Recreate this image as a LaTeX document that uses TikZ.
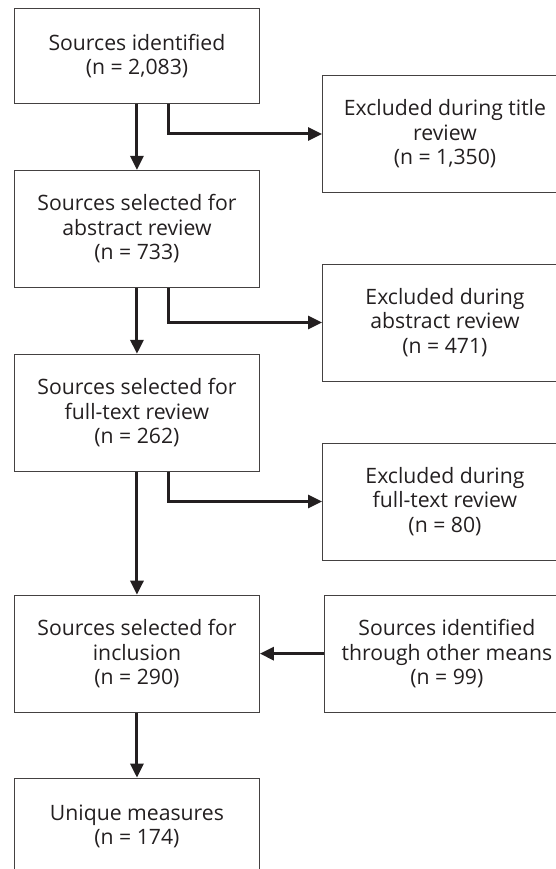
\documentclass[tikz,border=0pt]{standalone}
\usepackage{fontspec}
\setmainfont{Open Sans}
\usetikzlibrary{positioning,arrows.meta}
\definecolor{ink}{HTML}{231F20}
\tikzset{
    stagenode/.style={
        draw=ink!85,line width=.9pt,minimum width=245pt,align=center,text=ink,inner sep=0pt
    },
    flow/.style={
        ->,line width=3pt,draw=ink
    }
}

\begin{document}
\begin{tikzpicture}[x=1pt,y=-1pt, >={Triangle[length=14pt,width=13pt]}, font=\fontsize{21.2}{24.5}\selectfont]
\useasboundingbox (0,0) rectangle (556,869);
% main column
\node[stagenode,minimum height=95pt,anchor=north west] (n1) at (14,8) {Sources identified\\(n = 2,083)};
\node[stagenode,minimum height=117pt,below=66pt of n1] (n2) {Sources selected for\\abstract review\\(n = 733)};
\node[stagenode,minimum height=117pt,below=66pt of n2] (n3) {Sources selected for\\full-text review\\(n = 262)};
\node[stagenode,minimum height=117pt,below=123pt of n3] (n4) {Sources selected for\\inclusion\\(n = 290)};
\node[stagenode,minimum height=97pt,below=65pt of n4] (n5) {Unique measures\\(n = 174)};
% side boxes
\node[stagenode,minimum height=117pt,anchor=west] (x1) at (322,134) {Excluded during title\\review\\(n = 1,350)};
\node[stagenode,minimum height=117pt,anchor=west] (x2) at (322,322.5) {Excluded during\\abstract review\\(n = 471)};
\node[stagenode,minimum height=117pt,anchor=west] (x3) at (322,501.5) {Excluded during\\full-text review\\(n = 80)};
\node[stagenode,minimum height=117pt,right=64pt of n4] (x4) {Sources identified\\through other means\\(n = 99)};

\draw[flow] (n1) -- (n2);
\draw[flow] (n2) -- (n3);
\draw[flow] (n3) -- (n4);
\draw[flow] (n4) -- (n5);
\draw[flow] ([xshift=31.5pt]n1.south) |- (x1);
\draw[flow] ([xshift=31.5pt]n2.south) |- (x2);
\draw[flow] ([xshift=31.5pt]n3.south) |- (x3);
\draw[flow] (x4) -- (n4);
\end{tikzpicture}
\end{document}
